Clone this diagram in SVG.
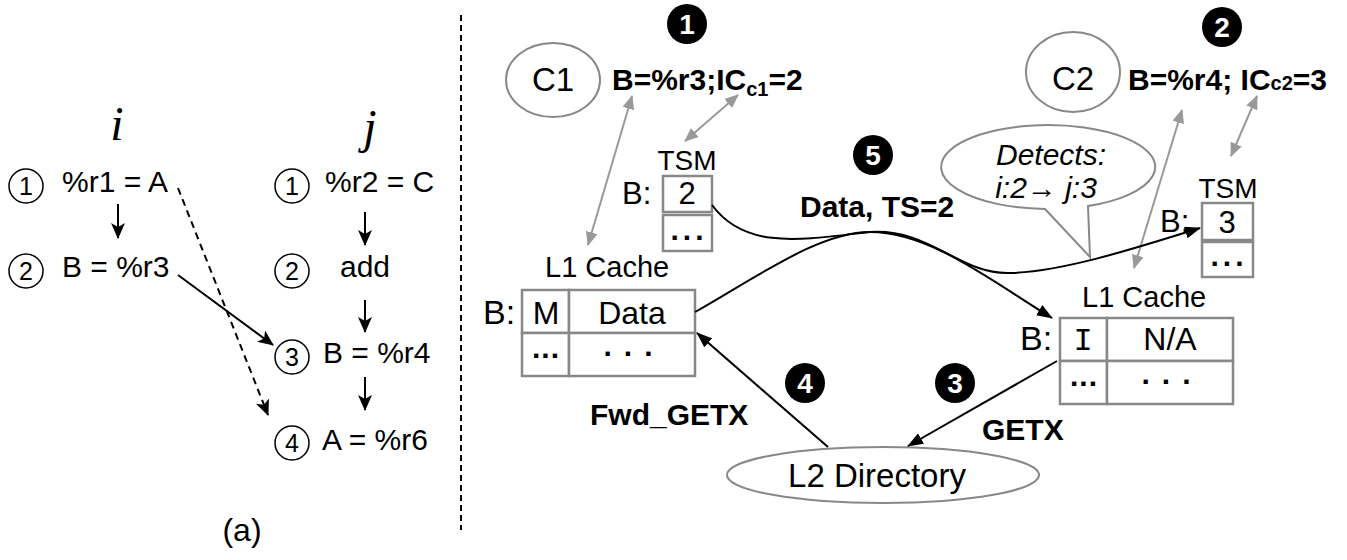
<svg xmlns="http://www.w3.org/2000/svg" width="1347" height="560" viewBox="0 0 1347 560">
<style>
.comic{font-family:"Liberation Sans","DejaVu Sans",sans-serif;font-size:30px;fill:#000}
.num{font-family:"Liberation Sans",sans-serif;font-size:25px;fill:#000;text-anchor:middle}
.reg{font-family:"Liberation Sans",Arial,sans-serif;fill:#000}
.bold{font-family:"Liberation Sans",Arial,sans-serif;font-weight:bold;font-size:30px;fill:#000}
.ital{font-family:"Liberation Sans",Arial,sans-serif;font-style:italic;font-size:30px;fill:#000;text-anchor:middle}
.ser{font-family:"Liberation Serif",serif;font-style:italic;font-size:48px;fill:#000;text-anchor:middle}
.oc{fill:#fff;stroke:#000;stroke-width:1.5}
.gray{fill:#fff;stroke:#888;stroke-width:2}
.cell{fill:#fff;stroke:#888;stroke-width:2.5}
.ln{fill:none;stroke:#000;stroke-width:2}
.gl{fill:none;stroke:#999;stroke-width:2;marker-start:url(#ga);marker-end:url(#ga)}
.bc{fill:#000}
.bn{font-family:"Liberation Sans",Arial,sans-serif;font-weight:bold;font-size:28px;fill:#fff;text-anchor:middle}
</style>
<defs>
<marker id="ba" viewBox="0 0 16 14" refX="15" refY="7" markerWidth="16" markerHeight="14" markerUnits="userSpaceOnUse" orient="auto"><path d="M0,0 L16,7 L0,14 L4,7 Z" fill="#000"/></marker>
<marker id="ta" viewBox="0 0 16 12" refX="15" refY="6" markerWidth="16" markerHeight="12" markerUnits="userSpaceOnUse" orient="auto"><path d="M0,0 L16,6 L0,12 Z" fill="#000"/></marker>
<marker id="ga" viewBox="0 0 14 12" refX="13" refY="6" markerWidth="14" markerHeight="12" markerUnits="userSpaceOnUse" orient="auto-start-reverse"><path d="M0,0 L14,6 L0,12 Z" fill="#999"/></marker>
</defs>

<!-- panel (a) -->
<g id="thread-i">
<text class="ser" x="117" y="140">i</text>
<g id="i1"><circle class="oc" cx="26" cy="186" r="17"/><text class="num" x="26" y="195">1</text><text class="comic" x="62" y="192">%r1 = A</text></g>
<g id="i2"><circle class="oc" cx="26" cy="271" r="17"/><text class="num" x="26" y="280">2</text><text class="comic" x="62" y="277">B = %r3</text></g>
</g>
<g id="thread-j">
<text class="ser" x="370" y="143">j</text>
<g id="j1"><circle class="oc" cx="292" cy="186" r="17"/><text class="num" x="292" y="195">1</text><text class="comic" x="325" y="192">%r2 = C</text></g>
<g id="j2"><circle class="oc" cx="292" cy="271" r="17"/><text class="num" x="292" y="280">2</text><text class="comic" x="340" y="277">add</text></g>
<g id="j3"><circle class="oc" cx="292" cy="357" r="17"/><text class="num" x="292" y="366">3</text><text class="comic" x="323" y="363">B = %r4</text></g>
<g id="j4"><circle class="oc" cx="292" cy="443" r="17"/><text class="num" x="292" y="452">4</text><text class="comic" x="322" y="450">A = %r6</text></g>
</g>
<g id="connectors-a">
<line class="ln" x1="118" y1="204" x2="118" y2="238" marker-end="url(#ba)"/>
<line class="ln" x1="365" y1="212" x2="365" y2="245" marker-end="url(#ba)"/>
<line class="ln" x1="365" y1="300" x2="365" y2="332" marker-end="url(#ba)"/>
<line class="ln" x1="365" y1="377" x2="365" y2="410" marker-end="url(#ba)"/>
<line class="ln" x1="178" y1="275" x2="273" y2="345" marker-end="url(#ba)"/>
<line class="ln" x1="178" y1="188" x2="268" y2="415" stroke-dasharray="7,5" marker-end="url(#ba)"/>
</g>
<text class="reg" x="242" y="541" font-size="32" text-anchor="middle">(a)</text>

<line x1="461" y1="15" x2="461" y2="530" stroke="#000" stroke-width="2" stroke-dasharray="6,4"/>

<!-- panel (b) -->
<g id="c1">
<ellipse class="gray" cx="553" cy="80" rx="47" ry="37"/>
<text class="reg" x="553" y="91" font-size="33" text-anchor="middle">C1</text>
</g>
<g id="op1">
<text class="bold" x="612" y="90">B=%r3;IC<tspan font-size="20" dy="6">c1</tspan><tspan dy="-6">=2</tspan></text>
</g>
<g id="c2">
<ellipse class="gray" cx="1073" cy="72" rx="47" ry="40"/>
<text class="reg" x="1073" y="90" font-size="33" text-anchor="middle">C2</text>
</g>
<g id="op2">
<text class="bold" x="1128" y="90">B=%r4; IC<tspan font-size="20">c2</tspan>=3</text>
</g>
<g id="tsm1">
<text class="reg" x="687" y="170" font-size="28" text-anchor="middle">TSM</text>
<text class="reg" x="622" y="204" font-size="31">B:</text>
<rect class="cell" x="663" y="176" width="49" height="36"/>
<rect class="cell" x="663" y="215" width="49" height="36"/>
<text class="reg" x="687" y="204" font-size="31" text-anchor="middle">2</text>
<text class="bold" x="689" y="240" font-size="24" text-anchor="middle" letter-spacing="4">...</text>
</g>
<g id="tsm2">
<text class="reg" x="1228" y="198" font-size="28" text-anchor="middle">TSM</text>
<text class="reg" x="1160" y="232" font-size="31">B:</text>
<rect class="cell" x="1202" y="203" width="51" height="37"/>
<rect class="cell" x="1202" y="242" width="51" height="35"/>
<text class="reg" x="1227" y="233" font-size="31" text-anchor="middle">3</text>
<text class="bold" x="1229" y="266" font-size="24" text-anchor="middle" letter-spacing="4">...</text>
</g>
<g id="l1-c1">
<text class="reg" x="545" y="277" font-size="29">L1 Cache</text>
<text class="reg" x="483" y="324" font-size="34">B:</text>
<rect class="cell" x="522" y="290" width="47" height="43"/>
<rect class="cell" x="569" y="290" width="126" height="43"/>
<rect class="cell" x="522" y="333" width="47" height="43"/>
<rect class="cell" x="569" y="333" width="126" height="43"/>
<text class="reg" x="546" y="324" font-size="32" text-anchor="middle">M</text>
<text class="reg" x="632" y="324" font-size="32" text-anchor="middle">Data</text>
<text class="bold" x="546" y="358" font-size="22" text-anchor="middle" letter-spacing="1">...</text>
<text class="bold" x="634" y="356" font-size="24" text-anchor="middle" letter-spacing="12">...</text>
</g>
<g id="l1-c2">
<text class="reg" x="1082" y="307" font-size="29">L1 Cache</text>
<text class="reg" x="1020" y="350" font-size="34">B:</text>
<rect class="cell" x="1060" y="318" width="47" height="43"/>
<rect class="cell" x="1107" y="318" width="126" height="43"/>
<rect class="cell" x="1060" y="361" width="47" height="43"/>
<rect class="cell" x="1107" y="361" width="126" height="43"/>
<text x="1083" y="350" font-family="Liberation Mono,monospace" font-size="32" text-anchor="middle">I</text>
<text class="reg" x="1170" y="350" font-size="32" text-anchor="middle">N/A</text>
<text class="bold" x="1084" y="386" font-size="22" text-anchor="middle" letter-spacing="1">...</text>
<text class="bold" x="1172" y="384" font-size="24" text-anchor="middle" letter-spacing="12">...</text>
</g>
<g id="l2">
<ellipse class="gray" cx="883" cy="475" rx="156" ry="28"/>
<text class="reg" x="877" y="487" font-size="33" text-anchor="middle">L2 Directory</text>
</g>
<g id="detects">
<path class="gray" d="M1045,209 L1090,257 L1088,206 A107,42 0 1 0 1045,209 Z"/>
<text class="ital" x="1051" y="165">Detects:</text>
<text class="ital" x="1046" y="198">i:2→ j:3</text>
</g>
<g id="steps">
<g id="s1"><circle class="bc" cx="687" cy="24" r="20"/><text class="bn" x="687" y="34">1</text></g>
<g id="s2"><circle class="bc" cx="1222" cy="27" r="20"/><text class="bn" x="1222" y="37">2</text></g>
<g id="s3"><circle class="bc" cx="955" cy="383" r="20"/><text class="bn" x="955" y="393">3</text></g>
<g id="s4"><circle class="bc" cx="805" cy="383" r="20"/><text class="bn" x="805" y="393">4</text></g>
<g id="s5"><circle class="bc" cx="873" cy="155" r="20"/><text class="bn" x="873" y="165">5</text></g>
</g>
<g id="labels">
<text class="bold" x="800" y="217">Data, TS=2</text>
<text class="bold" x="590" y="425">Fwd_GETX</text>
<text class="bold" x="982" y="440">GETX</text>
</g>
<g id="connectors-b">
<line class="gl" x1="588" y1="245" x2="632" y2="96"/>
<line class="gl" x1="738" y1="95" x2="685" y2="141"/>
<line class="gl" x1="1182" y1="110" x2="1134" y2="268"/>
<line class="gl" x1="1257" y1="96" x2="1231" y2="156"/>
<path class="ln" d="M712,205 C745,250 800,240 870,232 C930,228 960,275 1010,273 C1060,272 1130,250 1200,228" marker-end="url(#ta)"/>
<path class="ln" d="M695,312 C760,275 820,232 870,232 C930,232 990,280 1052,318" marker-end="url(#ta)"/>
<line class="ln" x1="828" y1="447" x2="697" y2="333" marker-end="url(#ta)"/>
<line class="ln" x1="1057" y1="361" x2="908" y2="446" marker-end="url(#ta)"/>
</g>
</svg>
